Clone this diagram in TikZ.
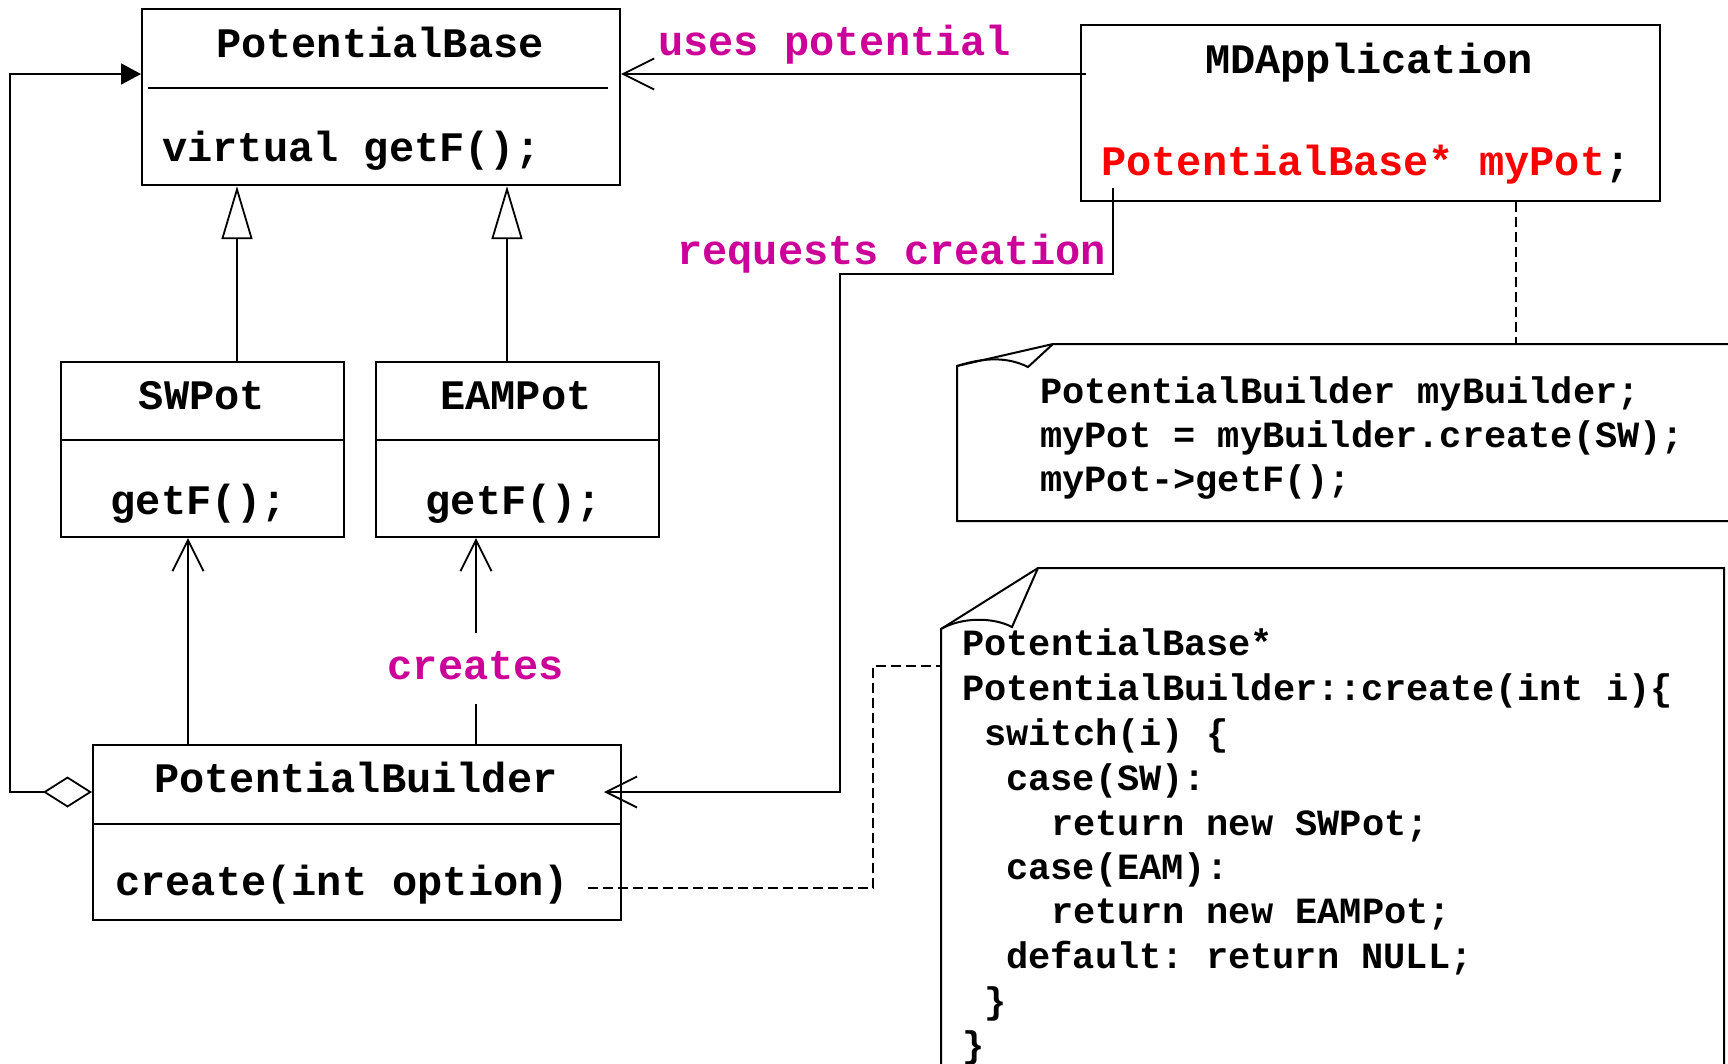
\documentclass[tikz,border=0pt]{standalone}
\usepackage{fontspec}
\setmonofont{Liberation Mono}
\usetikzlibrary{arrows.meta,calc}
\definecolor{lbl}{RGB}{204,0,153}
\definecolor{redtxt}{RGB}{255,0,0}
\tikzset{
  big/.style={font=\ttfamily\bfseries\fontsize{42}{50}\selectfont, inner sep=0pt},
  small/.style={font=\ttfamily\bfseries\fontsize{37}{44}\selectfont, inner sep=0pt, anchor=base west},
  label/.style={big, text=lbl},
  box/.style={draw, line width=2.2pt, inner sep=0pt, anchor=north west},
  conn/.style={line width=1.8pt},
  notepen/.style={line width=2pt},
  dsh/.style={line width=1.6pt, dash pattern=on 10pt off 5pt},
  barb/.tip={Straight Barb[length=31pt,width=31pt]},
  inh/.tip={Triangle[fill=white,length=53pt,width=31pt]},
  solidtip/.tip={Triangle[length=20pt,width=21pt]},
  agg/.tip={Diamond[fill=white,length=49pt,width=31pt]}
}
\begin{document}
\begin{tikzpicture}[x=1pt,y=-1pt]
\clip (0,0) rectangle (1728,1063);
% class boxes
\node[box, minimum width=478pt, minimum height=176pt] (pb) at (141,8) {};
\draw[conn] (148,88) -- (608,88);
\node[big, anchor=base] (pbt) at (380,57) {PotentialBase};
\node[big, anchor=base west] (pbm) at (162,161) {virtual getF();};

\node[box, minimum width=579pt, minimum height=176pt] (mda) at (1080,24) {};
\node[big, anchor=base] (mdat) at (1369,73) {MDApplication};
\node[big, anchor=base west] (mdam) at (1101,175) {{\color{redtxt}PotentialBase* myPot};};

\node[box, minimum width=283pt, minimum height=175pt] (sw) at (60,361) {};
\draw[conn] (sw.west |- 0,440) -- (sw.east |- 0,440);
\node[big, anchor=base] (swt) at (202,409) {SWPot};
\node[big, anchor=base] (swm) at (199,514) {getF();};

\node[box, minimum width=283pt, minimum height=175pt] (eam) at (375,361) {};
\draw[conn] (eam.west |- 0,440) -- (eam.east |- 0,440);
\node[big, anchor=base] (eamt) at (516,409) {EAMPot};
\node[big, anchor=base] (eamm) at (514,514) {getF();};

\node[box, minimum width=528pt, minimum height=175pt] (pbu) at (92,744) {};
\draw[conn] (pbu.west |- 0,824) -- (pbu.east |- 0,824);
\node[big, anchor=base] (pbut) at (356,792) {PotentialBuilder};
\node[big, anchor=base west] (pbum) at (115,895) {create(int option)};

% labels
\node[label, anchor=base west] (uses) at (658,55) {uses potential};
\node[label, anchor=base west] (req) at (677,264) {requests creation};
\node[label, anchor=base] (cre) at (476,679) {creates};

% notes
\draw[notepen] (1740,344) -- (1053,344) -- (957,366) -- (957,521) -- (1740,521);
\draw[notepen] (957,366) .. controls (985,357) and (1008,357) .. (1028,367) -- (1053,344);
\node[small] (n1a) at (1040,403) {PotentialBuilder myBuilder;};
\node[small] (n1b) at (1040,447) {myPot = myBuilder.create(SW);};
\node[small] (n1c) at (1040,491) {myPot->getF();};

\draw[notepen] (941,1075) -- (941,629) -- (1038,568) -- (1724,568) -- (1724,1075);
\draw[notepen] (941,629) .. controls (962,617) and (993,617) .. (1012,627) -- (1038,568);
\node[small] (n2a) at (962,655) {PotentialBase*};
\node[small] (n2b) at (962,700) {PotentialBuilder::create(int i)\{};
\node[small] (n2c) at (984,745) {switch(i) \{};
\node[small] (n2d) at (1006,790) {case(SW):};
\node[small] (n2e) at (1051,835) {return new SWPot;};
\node[small] (n2f) at (1006,879) {case(EAM):};
\node[small] (n2g) at (1051,923) {return new EAMPot;};
\node[small] (n2h) at (1006,968) {default: return NULL;};
\node[small] (n2i) at (984,1013) {\}};
\node[small] (n2j) at (962,1057) {\}};

% coordinates
\coordinate (u1) at (1086,74);
\coordinate (r0) at (1113,188);
\coordinate (r1) at (840,274);
\coordinate (r2) at (604,792);
\coordinate (xsw) at (237,0);
\coordinate (xeam) at (507,0);
\coordinate (xa) at (188,0);
\coordinate (xb) at (476,0);
\coordinate (c1) at (476,704);
\coordinate (c2) at (476,633);
\coordinate (ag) at (10,792);
\coordinate (pbin) at (141,74);
\coordinate (xm) at (1516,0);
\coordinate (d0) at (588,888);
\coordinate (d1) at (873,666);
\coordinate (d2) at (941,666);

% connectors
\draw[conn, -{barb}] (u1) -- (u1 -| pb.east);
\draw[conn, -{barb}] (r0) |- (r1) |- (r2);
\draw[conn, -{inh}] (xsw |- sw.north) -- (xsw |- pb.south);
\draw[conn, -{inh}] (xeam |- eam.north) -- (xeam |- pb.south);
\draw[conn, -{barb}] (xa |- pbu.north) -- (xa |- sw.south);
\draw[conn] (xb |- pbu.north) -- (c1);
\draw[conn, -{barb}] (c2) -- (xb |- eam.south);
\draw[conn, {agg}-{solidtip}] (pbu.west |- ag) -- (ag) |- (pbin);
\draw[dsh] (xm |- mda.south) -- (xm |- 0,344);
\draw[dsh] (d0) -| (d1) -- (d2);
\end{tikzpicture}
\end{document}
